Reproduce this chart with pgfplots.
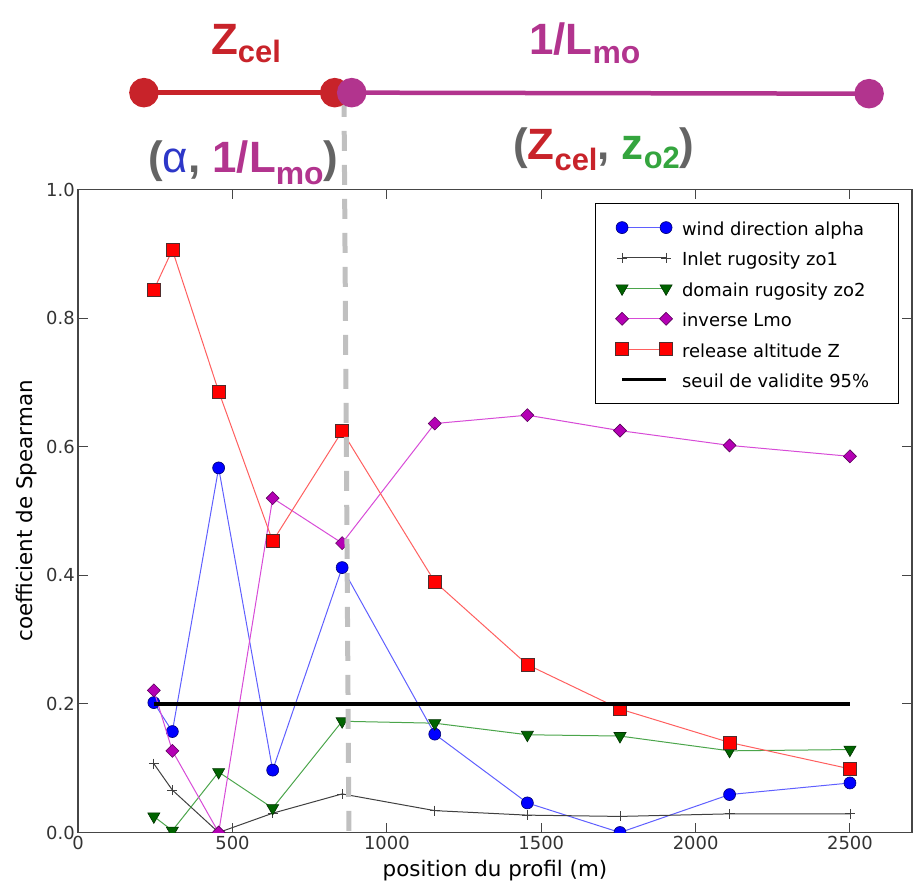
\documentclass[border=0pt]{standalone}
\usepackage{fontspec}
\setmainfont{DejaVu Sans}
\newfontfamily\annotfont{Liberation Sans}
\usepackage{pgfplots}
\pgfplotsset{compat=1.18}

% annotation colours
\definecolor{zcelred}{RGB}{200,35,42}
\definecolor{lmomag}{RGB}{178,52,142}
\definecolor{alphablue}{RGB}{45,55,200}
\definecolor{zogreen}{RGB}{52,165,62}
\definecolor{parengray}{RGB}{100,100,100}
\definecolor{dashgray}{RGB}{192,192,192}
\definecolor{framegray}{RGB}{70,70,70}
% series colours (lines are lighter than the markers)
\definecolor{blueline}{RGB}{95,95,255}
\definecolor{greenline}{RGB}{75,165,75}
\definecolor{greenmark}{RGB}{0,100,0}
\definecolor{magline}{RGB}{215,75,215}
\definecolor{magmark}{RGB}{180,0,180}
\definecolor{redline}{RGB}{255,95,95}
\definecolor{markedge}{RGB}{80,45,45}

\pgfplotstableread{
x     alpha  zoone  zotwo  invlmo  zcel
245   0.202  0.107  0.025  0.221   0.844
305   0.157  0.066  0.003  0.127   0.906
455   0.567  0.000  0.094  0.000   0.686
630   0.097  0.030  0.038  0.520   0.453
855   0.412  0.060  0.173  0.450   0.624
1155  0.153  0.034  0.170  0.636   0.390
1455  0.046  0.027  0.152  0.649   0.261
1755  0.000  0.025  0.150  0.625   0.192
2110  0.059  0.029  0.127  0.602   0.140
2500  0.077  0.029  0.129  0.585   0.099
}\spearman

\begin{document}
\begin{tikzpicture}
\begin{axis}[
  at={(78.2bp,54.5bp)}, anchor=south west,
  width=833.5bp, height=643bp, scale only axis,
  xmin=0, xmax=2700, ymin=0, ymax=1,
  clip marker paths=true,
  xtick={0,500,1000,1500,2000,2500},
  ytick={0,0.2,0.4,0.6,0.8,1.0},
  minor tick num=0,
  tick align=inside, xtick pos=both, ytick pos=both,
  major tick length=10bp,
  tick style={framegray, line width=1bp},
  axis line style={framegray, line width=1.6bp},
  /pgf/number format/assume math mode=true,
  ticklabel style={font=\fontsize{18}{18}\selectfont, text=black!80},
  xticklabel style={/pgf/number format/1000 sep={}},
  yticklabel style={/pgf/number format/.cd, fixed, fixed zerofill, precision=1},
  xlabel={position du profil (m)},
  ylabel={coefficient de Spearman},
  label style={font=\fontsize{21.5}{21.5}\selectfont},
  xlabel style={yshift=-4bp},
  ylabel style={yshift=2bp},
  legend cell align=left,
  legend image code/.code={\draw[#1] plot coordinates {(0bp,0bp) (44bp,0bp)};},
  legend style={at={(0.620,0.979)}, anchor=north west, draw=black,
    line width=1.2bp, fill=white, inner xsep=20bp, inner ysep=12bp,
    font=\fontsize{18}{18}\selectfont, row sep=6.4bp,
    nodes={inner xsep=9.5bp, inner ysep=3bp, text height=17bp, text depth=1bp}},
]
\addplot[blueline, line width=1bp, mark=*, mark size=6bp,
  mark options={fill=blue, draw=blue!45!black, line width=0.6bp}]
  table[x=x, y=alpha] {\spearman};
\addlegendentry{wind direction alpha}
\addplot[black!75, line width=1bp, mark=+, mark size=5bp,
  mark options={draw=black!75, line width=0.8bp}]
  table[x=x, y=zoone] {\spearman};
\addlegendentry{Inlet rugosity zo1}
\addplot[greenline, line width=1bp, mark=triangle*, mark size=7bp,
  mark options={rotate=180, fill=greenmark, draw=black!50!greenmark, line width=0.6bp}]
  table[x=x, y=zotwo] {\spearman};
\addlegendentry{domain rugosity zo2}
\addplot[magline, line width=1bp, mark=diamond*, mark size=6.5bp,
  mark options={xscale=1.33, fill=magmark, draw=black!50!magmark, line width=0.6bp}]
  table[x=x, y=invlmo] {\spearman};
\addlegendentry{inverse Lmo}
\addplot[redline, line width=1bp, mark=square*, mark size=6.5bp,
  mark options={fill=red, draw=markedge, line width=0.6bp}]
  table[x=x, y=zcel] {\spearman};
\addlegendentry{release altitude Z}
\addplot[black, line width=3.5bp] coordinates {(245,0.2) (2500,0.2)};
\addlegendentry{seuil de validite 95\%}
\end{axis}

% ranges of the dominant parameter, drawn above the plot
\begin{axis}[
  at={(78.2bp,54.5bp)}, anchor=south west,
  width=833.5bp, height=643bp, scale only axis,
  xmin=0, xmax=2700, ymin=0, ymax=1,
  hide axis, clip=false,
]
\addplot[zcelred, line width=4.5bp, mark=*, mark size=12.5bp,
  mark options={fill=zcelred, draw=none}]
  coordinates {(213,1.1506) (831,1.1506)};
\addplot[lmomag, line width=4.5bp, mark=*, mark size=12.5bp,
  mark options={fill=lmomag, draw=none}]
  coordinates {(886,1.1506) (2562,1.149)};
\addplot[dashgray, line width=5bp, dash pattern=on 20bp off 14bp]
  coordinates {(861,1.144) (877,0)};
\end{axis}

\begin{scope}[every node/.style={anchor=base west, inner sep=0pt,
    font=\annotfont\bfseries\fontsize{44}{44}\selectfont}]
\node[text=zcelred] at (211bp,832bp)
  {Z\raisebox{-8bp}{\fontsize{31}{31}\selectfont cel}};
\node[text=lmomag] at (529bp,832bp)
  {1/L\raisebox{-9bp}{\fontsize{32}{32}\selectfont mo}};
\node at (148bp,714bp)
  {\textcolor{parengray}{(}\textcolor{alphablue}{\mdseries α}\textcolor{parengray}{,}
   \textcolor{lmomag}{1/L\raisebox{-12bp}{\fontsize{32}{32}\selectfont mo}}\textcolor{parengray}{)}};
\node at (513bp,727bp)
  {\textcolor{parengray}{(}\textcolor{zcelred}{Z\raisebox{-11bp}{\fontsize{31}{31}\selectfont cel}}\textcolor{parengray}{,}
   \textcolor{zogreen}{z\raisebox{-9bp}{\fontsize{31}{31}\selectfont o2}}\textcolor{parengray}{)}};
\end{scope}

\pgfresetboundingbox
\path (0bp,0bp) rectangle (924bp,887bp);
\end{tikzpicture}
\end{document}
